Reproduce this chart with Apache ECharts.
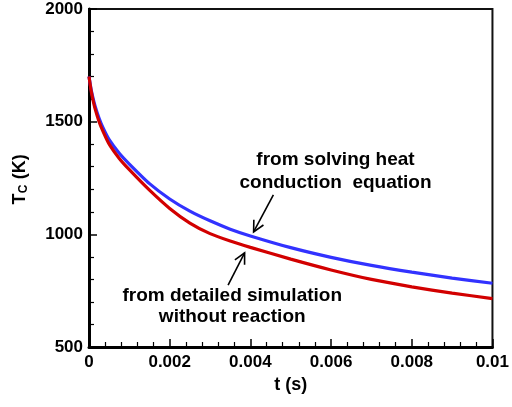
<!DOCTYPE html>
<html>
<head>
<meta charset="utf-8">
<script src="https://cdn.jsdelivr.net/npm/echarts@6/dist/echarts.min.js"></script>
<style>
html,body{margin:0;padding:0;background:#fff;}
#chart{width:512px;height:407px;}
</style>
</head>
<body>
<div id="chart"></div>
<script>
// ---- data ----
const timeValues = [0, 0.00005, 0.0001, 0.00015, 0.00025, 0.00035, 0.0005, 0.00075, 0.001, 0.0015, 0.002, 0.0025, 0.003, 0.0035, 0.004, 0.005, 0.006, 0.007, 0.008, 0.009, 0.01];
const heatConductionT = [1700, 1645, 1605, 1570, 1515, 1472, 1420, 1360, 1312, 1225, 1157, 1103, 1060, 1023, 993, 941, 898, 862, 832, 806, 783];
const detailedSimT    = [1700, 1640, 1595, 1558, 1500, 1456, 1400, 1337, 1287, 1196, 1115, 1050, 1003, 970, 942, 890, 842, 800, 767, 739, 715];
const xTicks = [0, 0.002, 0.004, 0.006, 0.008, 0.01];
const yTicks = [500, 1000, 1500, 2000];
const blueLabel = ['from solving heat', 'conduction  equation'];
const redLabel = ['from detailed simulation', 'without reaction'];
const yTitle = ['T', 'C', ' (K)'];

const FONT = '"Liberation Sans", Arial, Helvetica, sans-serif';
const pairs = (xs, ys) => xs.map((x, i) => [x, ys[i]]);

const chart = echarts.init(document.getElementById('chart'), null, {renderer: 'canvas'});
chart.setOption({
  animation: false,
  backgroundColor: '#fff',
  grid: {left: 89, right: 16, top: 9, bottom: 60, show: true, borderColor: '#111', borderWidth: 2, backgroundColor: 'transparent'},
  xAxis: {
    type: 'value', min: xTicks[0], max: xTicks[xTicks.length - 1], interval: 0.002,
    name: 't (s)', nameLocation: 'middle', nameGap: 28,
    nameTextStyle: {fontFamily: FONT, fontWeight: 'bold', fontSize: 18, color: '#000'},
    axisLine: {show: true, onZero: false, lineStyle: {color: '#000', width: 3}},
    axisTick: {show: true, inside: true, length: 8, lineStyle: {color: '#000', width: 1.5}},
    minorTick: {show: true, splitNumber: 5, length: 5, lineStyle: {color: '#000', width: 1.2}},
    splitLine: {show: false},
    axisLabel: {fontFamily: FONT, fontWeight: 'bold', fontSize: 17, color: '#000', margin: 7,
      formatter: v => String(+v.toFixed(4))}
  },
  yAxis: {
    type: 'value', min: yTicks[0], max: yTicks[yTicks.length - 1], interval: 500,
    axisLine: {show: true, onZero: false, lineStyle: {color: '#000', width: 3}},
    axisTick: {show: true, inside: true, length: 8, lineStyle: {color: '#000', width: 1.5}},
    minorTick: {show: true, splitNumber: 5, length: 5, lineStyle: {color: '#000', width: 1.2}},
    splitLine: {show: false},
    axisLabel: {fontFamily: FONT, fontWeight: 'bold', fontSize: 17, color: '#000', margin: 6,
      formatter: v => String(v)}
  },
  series: [
    {type: 'line', name: 'heat conduction', data: pairs(timeValues, heatConductionT),
      smooth: 0.2, showSymbol: false, symbol: 'none',
      lineStyle: {color: '#3232ff', width: 3.2}},
    {type: 'line', name: 'detailed simulation', data: pairs(timeValues, detailedSimT),
      smooth: 0.2, showSymbol: false, symbol: 'none',
      lineStyle: {color: '#d20000', width: 3.2}}
  ]
});

// ---- annotations (data coordinates) ----
const annotations = [
  {lines: blueLabel, centers: [[0.00611, 1332], [0.00611, 1229]], tail: [0.00457, 1175], tip: [0.00408, 1011]},
  {lines: redLabel, centers: [[0.00355, 726], [0.00355, 636]], tail: [0.003447, 775], tip: [0.003857, 918]}
];
const px = p => chart.convertToPixel({gridIndex: 0}, p);
const graphics = [];
annotations.forEach(a => {
  a.lines.forEach((txt, i) => {
    const c = px(a.centers[i]);
    graphics.push({type: 'text', x: c[0], y: c[1], z: 100,
      style: {text: txt, fontFamily: FONT, fontWeight: 'bold', fontSize: 19, fill: '#000', align: 'center', verticalAlign: 'middle'}});
  });
  const t0 = px(a.tail), t1 = px(a.tip);
  graphics.push({type: 'line', z: 100, shape: {x1: t0[0], y1: t0[1], x2: t1[0], y2: t1[1]}, style: {stroke: '#000', lineWidth: 1.6}});
  const ang = Math.atan2(t0[1] - t1[1], t0[0] - t1[0]);
  const L = 12, th = 27 * Math.PI / 180;
  const p1 = [t1[0] + L * Math.cos(ang + th), t1[1] + L * Math.sin(ang + th)];
  const p2 = [t1[0] + L * Math.cos(ang - th), t1[1] + L * Math.sin(ang - th)];
  graphics.push({type: 'polyline', z: 100, shape: {points: [p1, t1, p2]}, style: {stroke: '#000', lineWidth: 1.6, fill: null}});
});

// y-axis title with subscript, rotated, centred on the plot's vertical middle
const gridRect = chart.getModel().getComponent('grid').coordinateSystem.getRect();
const yMid = gridRect.y + gridRect.height / 2;
graphics.push({
  type: 'group', x: 20, y: yMid, rotation: Math.PI / 2, z: 100,
  children: [
    {type: 'text', x: -26.5, y: 0, style: {text: yTitle[0], fontFamily: FONT, fontWeight: 'bold', fontSize: 18, fill: '#000', align: 'left', verticalAlign: 'middle'}},
    {type: 'text', x: -15.2, y: 4, style: {text: yTitle[1], fontFamily: FONT, fontWeight: 'bold', fontSize: 12, fill: '#000', align: 'left', verticalAlign: 'middle'}},
    {type: 'text', x: -6.3, y: 0, style: {text: yTitle[2], fontFamily: FONT, fontWeight: 'bold', fontSize: 18, fill: '#000', align: 'left', verticalAlign: 'middle'}}
  ]
});
chart.setOption({graphic: graphics});
</script>
</body>
</html>
